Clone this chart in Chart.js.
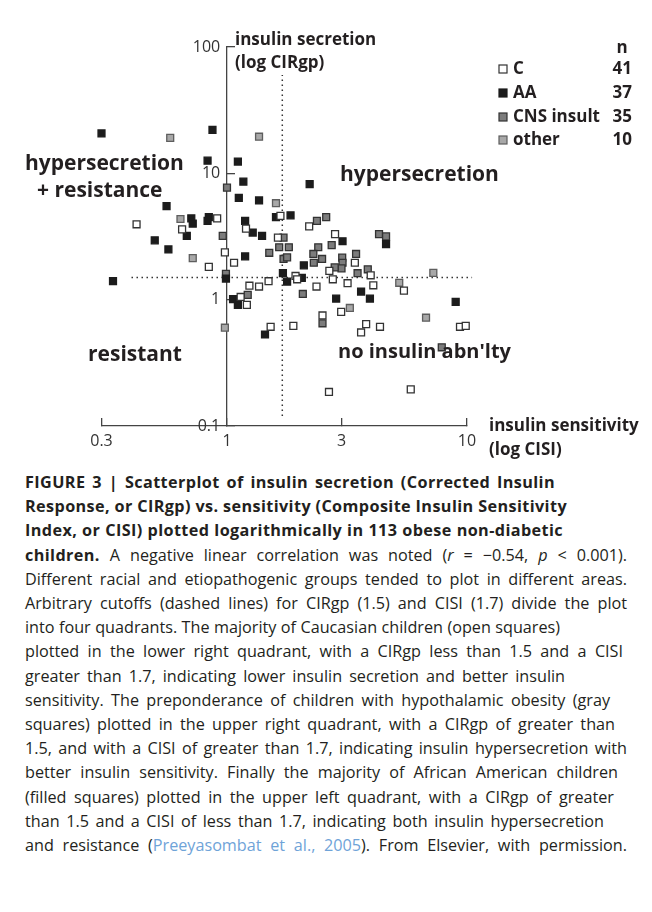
<!DOCTYPE html>
<html>
<head>
<meta charset="utf-8">
<script src="https://cdn.jsdelivr.net/npm/chart.js@4.4.1/dist/chart.umd.min.js"></script>
<style>
  body { margin: 0; background: #fff; }
  #wrap { position: relative; width: 652px; height: 912px; }
  canvas { display: block; }
  .caption {
    position: absolute; left: 25px; top: 470px;
    font-family: "Open Sans", sans-serif; font-size: 16.2px; line-height: 24.2px;
    color: #231f20; white-space: nowrap;
  }
  .caption b { letter-spacing: 0.4px; }
  .caption .ln { width: max-content; }
  .caption .ref { color: #6fa3d8; }
</style>
</head>
<body>
<div id="wrap">
<canvas id="chart" width="652" height="468"></canvas>
<div class="caption">
<div class="ln"><b>FIGURE 3 | Scatterplot of insulin secretion (Corrected Insulin</b></div>
<div class="ln"><b>Response, or CIRgp) vs. sensitivity (Composite Insulin Sensitivity</b></div>
<div class="ln"><b>Index, or CISI) plotted logarithmically in 113 obese non-diabetic</b></div>
<div class="ln"><b>children.</b> A negative linear correlation was noted (<i>r</i> = −0.54, <i>p</i> &lt; 0.001).</div>
<div class="ln">Different racial and etiopathogenic groups tended to plot in different areas.</div>
<div class="ln">Arbitrary cutoffs (dashed lines) for CIRgp (1.5) and CISI (1.7) divide the plot</div>
<div class="ln">into four quadrants. The majority of Caucasian children (open squares)</div>
<div class="ln">plotted in the lower right quadrant, with a CIRgp less than 1.5 and a CISI</div>
<div class="ln">greater than 1.7, indicating lower insulin secretion and better insulin</div>
<div class="ln">sensitivity. The preponderance of children with hypothalamic obesity (gray</div>
<div class="ln">squares) plotted in the upper right quadrant, with a CIRgp of greater than</div>
<div class="ln">1.5, and with a CISI of greater than 1.7, indicating insulin hypersecretion with</div>
<div class="ln">better insulin sensitivity. Finally the majority of African American children</div>
<div class="ln">(filled squares) plotted in the upper left quadrant, with a CIRgp of greater</div>
<div class="ln">than 1.5 and a CISI of less than 1.7, indicating both insulin hypersecretion</div>
<div class="ln">and resistance (<span class="ref">Preeyasombat et al., 2005</span>). From Elsevier, with permission.</div>
</div>
</div>
<script>
// CISI (x) and CIRgp (y) per group
const cX = [0.91, 0.42, 0.65, 1.20, 0.98, 1.67, 1.63, 2.20, 2.82, 2.67, 2.76, 3.41, 3.97, 2.36, 3.18, 4.07, 5.46, 2.99, 2.50, 3.80,
            4.34, 3.62, 9.35, 9.88, 5.83, 0.84, 1.07, 1.93, 1.96, 1.24, 1.36, 1.49, 1.14, 1.21, 1.52, 1.89, 2.66];
const cY = [4.4, 3.95, 3.6, 3.65, 2.37, 4.6, 3.1, 3.8, 3.3, 1.69, 1.45, 1.96, 1.56, 1.27, 1.35, 1.30, 1.18, 0.80, 0.75, 0.64,
            0.61, 0.55, 0.61, 0.62, 0.195, 1.82, 1.96, 1.54, 1.45, 1.29, 1.27, 1.40, 1.05, 0.91, 0.61, 0.62, 0.186];

const aaX = [0.30, 0.87, 0.83, 1.11, 1.17, 1.12, 1.36, 0.56, 0.71, 0.72, 0.84, 0.83, 0.68, 1.19, 1.28, 1.40, 0.50, 0.57, 1.19, 2.21,
             1.60, 1.84, 3.03, 4.60, 2.09, 2.05, 2.85, 3.62, 3.94, 8.97, 0.99, 1.71, 1.78, 1.06, 1.11, 1.44, 0.335];
const aaY = [20.7, 22.1, 12.6, 12.4, 8.6, 6.4, 6.1, 5.5, 4.4, 4.0, 4.5, 4.2, 3.2, 4.2, 3.4, 3.2, 2.95, 2.5, 2.2, 8.2,
             4.5, 4.65, 2.9, 2.75, 1.87, 1.49, 1.02, 1.16, 1.02, 0.96, 1.47, 1.62, 1.39, 1.01, 0.91, 0.53, 1.40];

const cnsX = [1.0, 0.96, 1.50, 1.72, 1.65, 1.81, 1.72, 1.78, 2.37, 2.59, 2.40, 2.73, 2.29, 2.49, 3.02, 3.45, 4.30, 4.60, 2.30, 3.03,
              3.00, 2.81, 3.50, 3.86, 2.07, 2.50, 7.85, 0.99, 1.22];
const cnsY = [7.7, 3.2, 2.35, 3.1, 2.6, 2.6, 2.1, 2.16, 4.2, 4.5, 2.6, 2.7, 2.3, 2.1, 2.15, 2.3, 3.3, 3.17, 1.96, 1.96,
              1.77, 1.8, 1.62, 1.74, 1.11, 0.65, 0.42, 1.6, 1.09];

const otherX = [0.58, 1.36, 0.64, 0.72, 1.60, 5.22, 7.24, 3.25, 6.75, 0.98];
const otherY = [19.1, 19.5, 4.35, 2.13, 5.8, 1.36, 1.63, 0.86, 0.72, 0.60];

const groupNames = ['C', 'AA', 'CNS insult', 'other'];
const groupCounts = [41, 37, 35, 10];

const xTicks = [0.3, 1, 3, 10];
const xTickLabels = ['0.3', '1', '3', '10'];
const yTicks = [0.1, 1, 10, 100];
const yTickLabels = ['0.1', '1', '10', '100'];

// cutoffs (dashed lines) and how far they run
const cisiCut = 1.7, cisiCutRange = [0.12, 60];
const cirCut = 1.5, cirCutRange = [0.4, 10.5];

const FONT = '"Open Sans", sans-serif';
const INK = '#231f20';

// caption: right end of each line in the original, spread words to match
const captionLineEnds = [555, 567, 563, 627, 627, 627, 560, 623, 565, 610, 615, 627, 618, 614, 604, 627];
document.querySelectorAll('.caption .ln').forEach((el, i) => {
  const w = el.getBoundingClientRect().width;
  const spaces = (el.textContent.trim().match(/ /g) || []).length;
  if (spaces) el.style.wordSpacing = ((captionLineEnds[i] - 25 - w) / spaces) + 'px';
});

function toPoints(xs, ys) {
  return xs.map((x, i) => ({ x: x, y: ys[i] }));
}

function group(label, xs, ys, fill, stroke) {
  return {
    label: label,
    data: toPoints(xs, ys),
    pointStyle: 'rect',
    pointRadius: 4.9,
    borderWidth: 1.3,
    backgroundColor: fill,
    borderColor: stroke,
    clip: false
  };
}

function cutLine(points) {
  return {
    label: '',
    data: points,
    showLine: true,
    pointRadius: 0,
    borderColor: '#333',
    borderWidth: 1.5,
    borderDash: [1.5, 3.5],
    clip: false
  };
}

const datasets = [
  group(groupNames[0], cX, cY, '#ffffff', '#333333'),
  group(groupNames[1], aaX, aaY, '#1c1c1c', '#1c1c1c'),
  group(groupNames[2], cnsX, cnsY, '#7c7c7c', '#333333'),
  group(groupNames[3], otherX, otherY, '#a8a8a8', '#5e5e5e'),
  cutLine(cisiCutRange.map(y => ({ x: cisiCut, y: y }))),
  cutLine(cirCutRange.map(x => ({ x: x, y: cirCut })))
];

const annotations = {
  id: 'annotations',
  afterDraw(chart) {
    const ctx = chart.ctx;
    ctx.save();
    ctx.fillStyle = INK;
    ctx.textBaseline = 'middle';
    ctx.textAlign = 'left';

    ctx.font = 'bold 17px ' + FONT;
    ctx.fillText('insulin secretion', 235, 40);
    ctx.fillText('(log CIRgp)', 235, 63);
    ctx.fillText('insulin sensitivity', 489, 426);
    ctx.fillText('(log CISI)', 489, 450);

    ctx.font = 'bold 21px ' + FONT;
    ctx.fillText('hypersecretion', 25, 164);
    ctx.fillText('+ resistance', 37, 191);
    ctx.fillText('hypersecretion', 340, 175);
    ctx.fillText('resistant', 88, 355);
    ctx.font = 'bold 20px ' + FONT;
    ctx.fillText('no insulin abn\'lty', 338, 352);

    // legend with group sizes
    ctx.font = 'bold 17px ' + FONT;
    ctx.textAlign = 'center';
    ctx.fillText('n', 622, 48);
    const rows = [69, 93, 117, 140];
    chart.data.datasets.slice(0, 4).forEach((ds, i) => {
      const y = rows[i];
      ctx.fillStyle = ds.backgroundColor;
      ctx.fillRect(499, y - 4, 8, 8);
      ctx.strokeStyle = ds.borderColor;
      ctx.lineWidth = 1.2;
      ctx.strokeRect(499, y - 4, 8, 8);
      ctx.fillStyle = INK;
      ctx.textAlign = 'left';
      ctx.fillText(ds.label, 513, y);
      ctx.textAlign = 'right';
      ctx.fillText(String(groupCounts[i]), 632, y);
    });
    ctx.restore();
  }
};

new Chart(document.getElementById('chart'), {
  type: 'scatter',
  data: { datasets: datasets },
  options: {
    responsive: false,
    animation: false,
    events: [],
    layout: { padding: { left: 101.5, right: 185, top: 47, bottom: 12 } },
    plugins: { legend: { display: false }, tooltip: { enabled: false } },
    scales: {
      x: {
        type: 'logarithmic',
        position: 'bottom',
        min: 0.3,
        max: 10,
        afterBuildTicks: s => { s.ticks = xTicks.map(v => ({ value: v })); },
        afterFit: s => { s.height = 30; },
        ticks: {
          autoSkip: false, maxRotation: 0, padding: 14,
          color: '#333', font: { family: FONT, size: 16 },
          callback: (v, i) => xTickLabels[i]
        },
        grid: { drawOnChartArea: false, drawTicks: true, tickLength: -8, color: '#444', lineWidth: 1.3 },
        border: { display: true, color: '#444', width: 1.3 }
      },
      y: {
        type: 'logarithmic',
        position: { x: 1 },
        min: 0.1,
        max: 100,
        afterBuildTicks: s => { s.ticks = yTicks.map(v => ({ value: v })); },
        ticks: {
          autoSkip: false,
          color: '#333', font: { family: FONT, size: 16 },
          callback: (v, i) => yTickLabels[i] + ' \u2009'
        },
        grid: { drawOnChartArea: false, drawTicks: true, tickLength: -9, color: '#444', lineWidth: 1.3 },
        border: { display: true, color: '#444', width: 1.3 }
      }
    }
  },
  plugins: [annotations]
});
</script>
</body>
</html>
